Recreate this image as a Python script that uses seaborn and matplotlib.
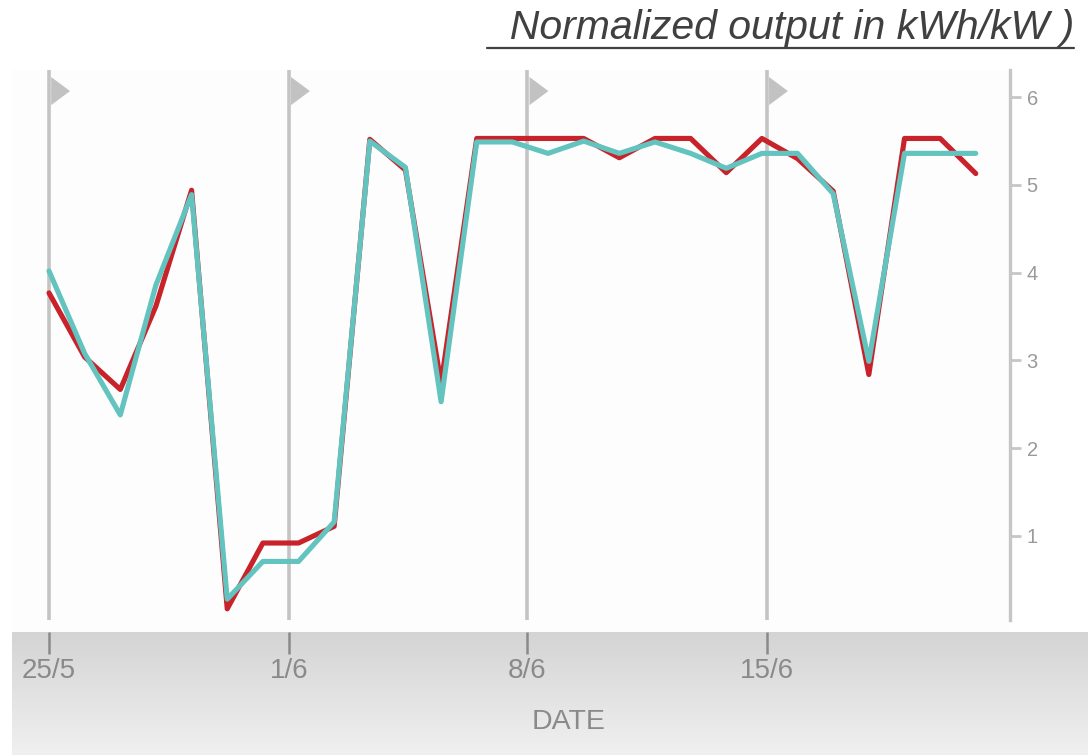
import numpy as np
import pandas as pd
import matplotlib
matplotlib.use('Agg')
import matplotlib.pyplot as plt
from matplotlib.lines import Line2D
import seaborn as sns

# daily normalized output (kWh/kW), 27 readings from 25/5
red_vals = [3.77, 3.04, 2.67, 3.62, 4.94, 0.17, 0.92, 0.92, 1.11, 5.52, 5.17, 2.74, 5.53, 5.53,
            5.53, 5.53, 5.31, 5.53, 5.53, 5.14, 5.53, 5.30, 4.93, 2.84, 5.53, 5.53, 5.13]
teal_vals = [4.02, 3.08, 2.38, 3.86, 4.89, 0.28, 0.71, 0.71, 1.16, 5.50, 5.20, 2.53, 5.49, 5.49,
             5.36, 5.50, 5.36, 5.49, 5.36, 5.19, 5.36, 5.36, 4.90, 2.99, 5.36, 5.36, 5.36]
series_names = ['expected', 'actual']
date_labels = ['25/5', '1/6', '8/6', '15/6']
date_pos = [0, 6.73, 13.42, 20.14]
y_ticks = [1, 2, 3, 4, 5, 6]

df = pd.DataFrame({
    'idx': list(range(len(red_vals))) * 2,
    'value': red_vals + teal_vals,
    'series': [series_names[0]] * len(red_vals) + [series_names[1]] * len(teal_vals),
})

sns.set_style('white')
plt.rcParams['font.family'] = ['Liberation Sans', 'DejaVu Sans']

W, H = 1088, 755
fig = plt.figure(figsize=(W / 100, H / 100), dpi=100)
fig.patch.set_facecolor('white')

# grey gradient band under the chart
band = fig.add_axes([12 / W, 0, 1 - 12 / W, 123 / H])
grad = np.linspace(0, 1, 200).reshape(-1, 1)
band.imshow(grad, aspect='auto', cmap=matplotlib.colors.LinearSegmentedColormap.from_list(
    'g', ['#d4d4d4', '#f0f0f0']), extent=[0, 1, 0, 1], origin='upper')
band.axis('off')
band.set_zorder(0)

ax = fig.add_axes([12 / W, (H - 632) / H, (1010 - 12) / W, (632 - 70) / H])
ax.set_zorder(1)
ax.set_facecolor('#fdfdfd')

sns.lineplot(data=df, x='idx', y='value', hue='series', palette=['#c8222b', '#63c3bf'],
             linewidth=3.7, legend=False, ax=ax, zorder=3)

x_lo, x_hi = -1.038, 26.96
y_lo, y_hi = -0.094, 6.31
ax.set_xlim(x_lo, x_hi)
ax.set_ylim(y_lo, y_hi)

# weekly markers with flags
for p in date_pos:
    ax.plot([p, p], [0.04, y_hi], color='#c4c4c4', lw=2.6, zorder=1, solid_capstyle='butt')
    ax.fill([p + 0.06, p + 0.59, p + 0.06], [6.23, 6.07, 5.91], color='#c2c2c2', lw=0, zorder=2)

for s in ['top', 'left', 'bottom']:
    ax.spines[s].set_visible(False)
ax.spines['right'].set_color('#c6c6c6')
ax.spines['right'].set_linewidth(2.4)
ax.spines['right'].set_bounds(0.04, y_hi)

ax.yaxis.tick_right()
ax.set_yticks(y_ticks)
ax.tick_params(axis='y', direction='out', length=8, width=2, color='#c6c6c6',
               labelcolor='#9a9a9a', labelsize=14.5, pad=4)

ax.set_xticks(date_pos)
ax.set_xticklabels(date_labels)
ax.tick_params(axis='x', bottom=True, direction='out', length=15.5, width=1.8, color='#8a8a8a',
               labelcolor='#8a8a8a', labelsize=20, pad=3.5)
ax.set_xlabel('')
ax.set_ylabel('')

fig.text(569 / W, 1 - 722 / H, 'DATE', ha='center', va='center', fontsize=20.5, color='#8a8a8a')

title = fig.text(1074 / W, 1 - 39 / H, '  Normalized output in kWh/kW )', ha='right', va='baseline',
                 fontsize=29.5, style='italic', color='#404040')
fig.canvas.draw()
bb = title.get_window_extent()
fig.add_artist(Line2D([bb.x0 / W, bb.x1 / W], [1 - 47.7 / H, 1 - 47.7 / H],
                      transform=fig.transFigure, color='#404040', lw=1.6))

fig.savefig('out.png', dpi=100)
